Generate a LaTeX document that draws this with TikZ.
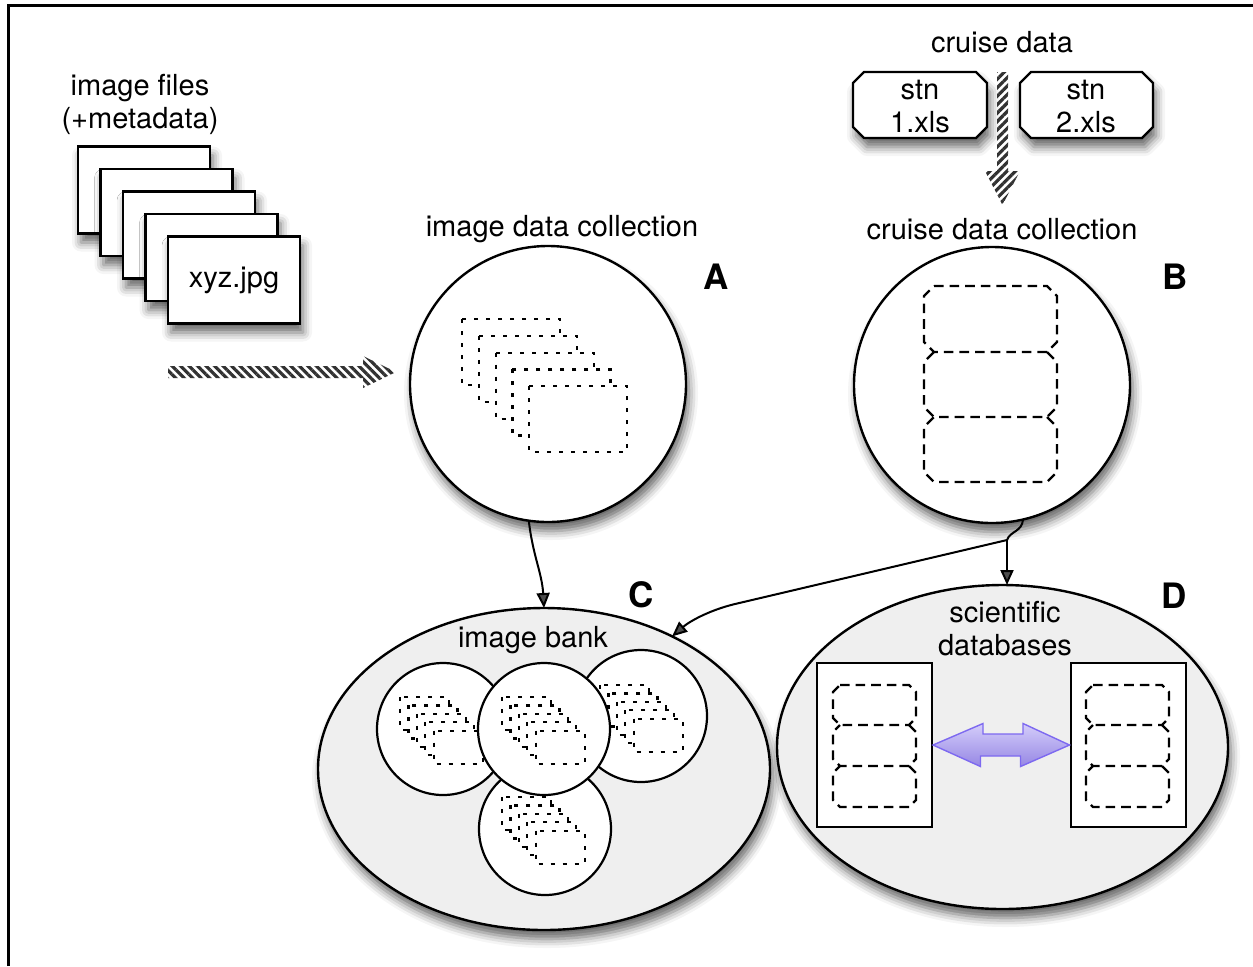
\documentclass[tikz,border=0pt]{standalone}
\usepackage{fontspec}
\setmainfont{TeX Gyre Heros}
\usetikzlibrary{shapes.geometric,shadows.blur,patterns.meta,arrows.meta,calc}

\definecolor{bankgray}{RGB}{239,239,239}
\definecolor{hatch}{RGB}{50,50,50}
\definecolor{violetline}{RGB}{125,105,240}
\definecolor{violettop}{RGB}{212,205,250}
\definecolor{violetbot}{RGB}{150,135,228}

\tikzset{
  softshadow/.style={blur shadow={shadow xshift=1.5pt, shadow yshift=-4.5pt,
      shadow blur radius=4.5pt, shadow opacity=60}},
  txt/.style={font=\fontsize{14.5}{16.5}\selectfont, align=center, inner sep=0pt},
  panelletter/.style={font=\fontsize{17.5}{18}\selectfont\bfseries, inner sep=0pt},
  filebox/.style={draw, line width=1.1pt, fill=white, minimum width=66pt,
      minimum height=43.5pt, inner sep=0pt, softshadow},
  bigcirc/.style={circle, draw, fill=white, line width=1.2pt, minimum size=138pt,
      inner sep=0pt, outer sep=0pt, softshadow},
  smallcirc/.style={circle, draw, fill=white, line width=1.1pt, minimum size=66pt,
      inner sep=0pt, outer sep=0pt},
  bankellipse/.style={ellipse, draw, fill=bankgray, line width=1.2pt, inner sep=0pt,
      outer sep=0pt, softshadow},
  dbpanel/.style={draw, fill=white, line width=1pt, minimum width=57.5pt,
      minimum height=82pt, inner sep=0pt},
  dotbox/.style={draw, fill=white, line width=1.1pt, dash pattern=on 2pt off 4pt},
  dashbox/.style={draw, line width=1.1pt, dash pattern=on 4.8pt off 3pt},
  octbox/.style={draw, fill=white, line width=1.1pt, softshadow},
  flowarrow/.style={line width=1pt, -{Triangle[length=7.5pt,width=6.5pt]}},
  hatchleft/.style={pattern={Lines[angle=-45,distance=3pt,line width=1.6pt]}, pattern color=hatch},
  hatchright/.style={pattern={Lines[angle=45,distance=3pt,line width=1.6pt]}, pattern color=hatch},
}

% five overlapping dotted frames: x y width height step
\newcommand\imgstack[5]{%
  \foreach \k in {0,...,4}{\draw[dotbox] ({#1+\k*#5},{#2+\k*#5}) rectangle ++(#3,#4);}}

% rectangle with cut corners: style x1 y1 x2 y2 cut
\newcommand\chamferbox[6]{%
  \draw[#1] ({#2+#6},#3) -- ({#4-#6},#3) -- (#4,{#3+#6}) -- (#4,{#5-#6})
    -- ({#4-#6},#5) -- ({#2+#6},#5) -- (#2,{#5-#6}) -- (#2,{#3+#6}) -- cycle;}

% same outline without its top edge, for a box stacked under another one
\newcommand\chamferbelow[6]{%
  \draw[#1] ({#4-#6},#3) -- (#4,{#3+#6}) -- (#4,{#5-#6})
    -- ({#4-#6},#5) -- ({#2+#6},#5) -- (#2,{#5-#6}) -- (#2,{#3+#6}) -- ({#2+#6},#3);}

\begin{document}
\begin{tikzpicture}[x=0.5pt,y=-0.5pt]
\useasboundingbox (0,0) rectangle (1253,966);

% frame
\draw[line width=1.3pt] (8.5,966) -- (8.5,5.5) -- (1253,5.5);

% ---- image files ----
\node[txt] (filesLabel) at (140,104) {image files\\(+metadata)};
\foreach \k in {0,...,3}
  \node[filebox] (f\k) at ({144+\k*22.5},{190+\k*22.5}) {};
\node[filebox, font=\fontsize{14.5}{16.5}\selectfont] (f4) at (234,280) {xyz.jpg};

\path[hatchleft] (168,366) -- (363,366) -- (363,356) -- (396,372)
  -- (363,388) -- (363,378) -- (168,378) -- cycle;

% ---- cruise data ----
\node[txt] (cruiseLabel) at (1002,42) {cruise data};
\chamferbox{octbox}{853}{72}{987}{138}{11}
\node[txt] (stn1) at (920,107) {stn\\1.xls};
\chamferbox{octbox}{1020}{72}{1153}{138}{11}
\node[txt] (stn2) at (1086,107) {stn\\2.xls};

\path[hatchright] (997,72) -- (1008,72) -- (1008,171) -- (1020,171)
  -- (1002.5,205) -- (985,171) -- (997,171) -- cycle;

% ---- A: image data collection ----
\node[txt] (titleA) at (562,229) {image data collection};
\node[bigcirc] (A) at (548,384) {};
\imgstack{462}{319}{98}{66}{16.8}
\node[panelletter] (letterA) at (716,277) {A};

% ---- B: cruise data collection ----
\node[txt] (titleB) at (1002,229) {cruise data collection};
\node[bigcirc] (B) at (992,385) {};
\chamferbox{dashbox}{924}{286}{1057}{352}{10}
\chamferbelow{dashbox}{924}{352}{1057}{417}{10}
\chamferbelow{dashbox}{924}{417}{1057}{482}{10}
\node[panelletter] (letterB) at (1175,277) {B};

% ---- C: image bank ----
\node[bankellipse, minimum width=226pt, minimum height=161pt] (C) at (544,769) {};
\node[txt] (titleC) at (533,640) {image bank};
\node[smallcirc] (c1) at (443,729) {};
\imgstack{400}{697}{49}{33}{8.4}
\node[smallcirc] (c2) at (641,716) {};
\imgstack{600}{685}{49}{33}{8.4}
\node[smallcirc] (c3) at (545,829) {};
\imgstack{502}{797}{49}{33}{8.4}
\node[smallcirc] (c4) at (544,729) {};
\imgstack{502}{697}{49}{33}{8.4}
\node[panelletter] (letterC) at (641,595) {C};

% ---- D: scientific databases ----
\node[bankellipse, minimum width=225.5pt, minimum height=162pt] (D) at (1002.5,747) {};
\node[txt] (titleD) at (1005,629) {scientific\\databases};
\node[dbpanel] (db1) at (874.5,745) {};
\node[dbpanel] (db2) at (1128,745) {};
\chamferbox{dashbox}{833}{685}{916}{725}{7}
\chamferbelow{dashbox}{833}{725}{916}{766}{7}
\chamferbelow{dashbox}{833}{766}{916}{807}{7}
\chamferbox{dashbox}{1086}{685}{1169}{725}{7}
\chamferbelow{dashbox}{1086}{725}{1169}{766}{7}
\chamferbelow{dashbox}{1086}{766}{1169}{807}{7}
\shadedraw[top color=violettop, bottom color=violetbot, draw=violetline, line width=0.7pt]
  (db1.east) -- ++(50,-21.5) -- ++(0,10.5) -- ++(40,0) -- ++(0,-10.5)
  -- (db2.west) -- ++(-49,21.5) -- ++(0,-10.5) -- ++(-40,0) -- ++(0,10.5) -- cycle;
\node[panelletter] (letterD) at (1174,596) {D};

% ---- connectors ----
\draw[flowarrow] (A.262) .. controls ($(A.262)+(4,35)$) and ($(C.north)+(-2,-35)$) .. (C.north);
\coordinate (split) at (1007,540);
\draw[line width=1pt] (B.283) .. controls (1022,532) and (1010,531) .. (split);
\draw[flowarrow] (split) -- (split |- D.north);
\draw[flowarrow] (split) -- (735,604) .. controls (710,610) and (690,621) .. (C.46);
\end{tikzpicture}
\end{document}
